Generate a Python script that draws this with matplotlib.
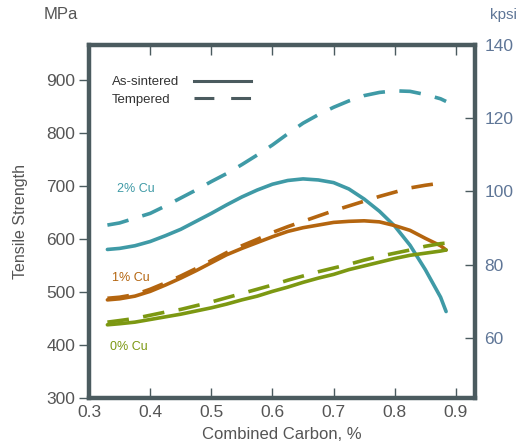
import matplotlib
matplotlib.use('Agg')
import matplotlib.pyplot as plt
from matplotlib.lines import Line2D

plt.rcParams['font.family'] = ['Liberation Sans', 'DejaVu Sans']

# Combined carbon (%) sample points shared by every curve
carbon = [0.33, 0.35, 0.375, 0.40, 0.425, 0.45, 0.475, 0.50, 0.525, 0.55,
          0.575, 0.60, 0.625, 0.65, 0.675, 0.70, 0.725, 0.75, 0.775, 0.80,
          0.825, 0.85, 0.875, 0.884]

# Tensile strength, MPa
cu2_sintered = [580, 582, 587, 595, 606, 618, 633, 648, 664, 679,
                692, 703, 710, 713, 711, 706, 694, 675, 652, 624,
                588, 542, 490, 463]
cu2_tempered = [626, 630, 639, 648, 662, 677, 692, 708, 723, 740,
                758, 777, 798, 818, 834, 848, 860, 870, 876, 879,
                878, 872, 864, 859]
cu1_sintered = [485, 487, 492, 501, 513, 526, 540, 555, 570, 582,
                593, 604, 614, 621, 626, 631, 633, 634, 632, 625,
                616, 601, 587, 579]
cu1_tempered = [488, 490, 495, 505, 517, 530, 544, 559, 574, 587,
                599, 612, 623, 633, 643, 653, 662, 671, 680, 688,
                696, 701, 705, 706]
cu0_sintered = [438, 440, 443, 448, 453, 458, 464, 470, 477, 485,
                492, 501, 509, 518, 526, 533, 542, 549, 556, 563,
                569, 573, 577, 579]
cu0_tempered = [443, 446, 450, 456, 462, 467, 474, 481, 489, 497,
                505, 513, 522, 530, 538, 545, 552, 560, 567, 573,
                579, 586, 591, 592]

series_labels = ['2% Cu', '1% Cu', '0% Cu']
series_colors = ['#3f9aa6', '#b4650f', '#7c9812']

x_ticks = [0.3, 0.4, 0.5, 0.6, 0.7, 0.8, 0.9]
mpa_ticks = [300, 400, 500, 600, 700, 800, 900]
kpsi_ticks = [60, 80, 100, 120, 140]
MPA_PER_KPSI = 6.895

frame = '#4b5b5f'
text_gray = '#555555'
kpsi_color = '#5f7697'

fig = plt.figure(figsize=(5.27, 4.46), dpi=100)
ax = fig.add_axes([0.169, 0.1076, 0.732, 0.7914])

lw = 2.6
dash = (6, 4)
pairs = [(cu2_sintered, cu2_tempered), (cu1_sintered, cu1_tempered),
         (cu0_sintered, cu0_tempered)]
for (solid, dashed), col in zip(pairs, series_colors):
    ax.plot(carbon, dashed, color=col, lw=lw, dashes=dash,
            solid_capstyle='round', dash_capstyle='butt')
    ax.plot(carbon, solid, color=col, lw=lw, solid_capstyle='round',
            solid_joinstyle='round')

ax.set_xlim(0.3, 0.931)
ax.set_ylim(300, 140 * MPA_PER_KPSI)

for sp in ax.spines.values():
    sp.set_color(frame)
    sp.set_linewidth(3.2)

ax.set_xticks(x_ticks)
ax.set_xticklabels([f'{v:.1f}' for v in x_ticks])
ax.set_yticks(mpa_ticks)
ax.tick_params(axis='x', direction='in', length=7, width=1, color=frame,
               labelsize=12.5, labelcolor=text_gray, top=True, pad=5)
ax.tick_params(axis='y', direction='out', length=7, width=1, color=frame,
               labelsize=12.5, labelcolor=text_gray, pad=3)

# kpsi scale on the right
ax2 = ax.twinx()
ax2.set_ylim(300 / MPA_PER_KPSI, 140)
ax2.set_yticks(kpsi_ticks)
ax2.tick_params(axis='y', direction='in', length=7, width=1, color=frame,
                labelsize=12.5, labelcolor=kpsi_color, pad=7)
for sp in ax2.spines.values():
    sp.set_visible(False)

ax.set_xlabel('Combined Carbon, %', fontsize=12, color=text_gray, labelpad=5)
ax.set_ylabel('Tensile Strength', fontsize=11.5, color=text_gray, labelpad=13)
fig.text(0.082, 0.968, 'MPa', fontsize=12, color=text_gray, ha='left', va='center')
fig.text(0.955, 0.966, 'kpsi', fontsize=11, color=kpsi_color, ha='center', va='center')

# curve labels
ax.text(0.345, 694, series_labels[0], color=series_colors[0], fontsize=9, va='center')
ax.text(0.337, 526, series_labels[1], color=series_colors[1], fontsize=9, va='center')
ax.text(0.334, 396, series_labels[2], color=series_colors[2], fontsize=9, va='center')

# line style key
ax.text(0.337, 895, 'As-sintered', color='#333333', fontsize=9.5, va='center')
ax.text(0.337, 862, 'Tempered', color='#333333', fontsize=9.5, va='center')
ax.add_line(Line2D([0.472, 0.565], [898, 898], color=frame, lw=2.2))
ax.add_line(Line2D([0.472, 0.565], [866, 866], color=frame, lw=2.2,
                   dashes=(6.5, 5.5)))

fig.savefig('out.png', dpi=100)
